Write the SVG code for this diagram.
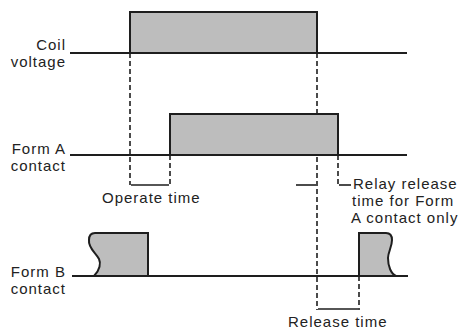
<svg xmlns="http://www.w3.org/2000/svg" width="465" height="334" viewBox="0 0 465 334">
<style>
.sig{fill:none;stroke:#1e1e1e;stroke-width:2}
.pulse{fill:#bdbdbd;stroke:none}
.dash{fill:none;stroke:#1e1e1e;stroke-width:1.6;stroke-dasharray:5 3}
.dim{fill:none;stroke:#1e1e1e;stroke-width:1.6}
text{font-family:"Liberation Sans",Arial,sans-serif;font-size:15px;fill:#222;letter-spacing:1px}
.r{text-anchor:end}
</style>
<rect width="465" height="334" fill="#fff"/>
<g id="connectors">
<line class="dash" x1="130" y1="53" x2="130" y2="185"/>
<line class="dash" x1="170" y1="155" x2="170" y2="185"/>
<line class="dash" x1="317" y1="53" x2="317" y2="310"/>
<line class="dash" x1="338" y1="155" x2="338" y2="185"/>
<line class="dash" x1="359" y1="276" x2="359" y2="310"/>
<line class="dim" x1="131" y1="185" x2="169" y2="185"/>
<line class="dim" x1="318" y1="309" x2="358" y2="309"/>
<line class="dim" x1="296" y1="185" x2="316" y2="185"/>
<line class="dim" x1="339" y1="185" x2="351" y2="185"/>
</g>
<g id="coil">
<rect class="pulse" x="130" y="12" width="187" height="41"/>
<line class="sig" x1="70" y1="53" x2="407" y2="53"/>
<path class="sig" d="M130,53 V12 H317 V53"/>
<text class="r" x="66" y="50">Coil</text>
<text class="r" x="66" y="67">voltage</text>
</g>
<g id="formA">
<rect class="pulse" x="170" y="114" width="168" height="41"/>
<line class="sig" x1="70" y1="155" x2="407" y2="155"/>
<path class="sig" d="M170,155 V114 H338 V155"/>
<text class="r" x="66" y="154">Form A</text>
<text class="r" x="66" y="171">contact</text>
</g>
<g id="formB">
<path class="pulse" d="M94,276 C100,270 101,263 99,259 C96,253 88,248 89,240 C89,236 91,233 95,233 H148 V276 Z"/>
<path class="pulse" d="M359,276 V233 H386 C390,233 392,236 392,240 C392,247 388,252 388,258 C388,266 391,274 396,276 Z"/>
<line class="sig" x1="72" y1="276" x2="408" y2="276"/>
<path class="sig" d="M94,276 C100,270 101,263 99,259 C96,253 88,248 89,240 C89,236 91,233 95,233 H148 V276"/>
<path class="sig" d="M359,276 V233 H386 C390,233 392,236 392,240 C392,247 388,252 388,258 C388,266 391,274 396,276"/>
<text class="r" x="66" y="277">Form B</text>
<text class="r" x="66" y="294">contact</text>
</g>
<g id="labels">
<text x="102" y="203">Operate time</text>
<text x="353" y="189">Relay release</text>
<text x="352" y="206">time for Form</text>
<text x="351" y="223">A contact only</text>
<text x="288" y="327">Release time</text>
</g>
</svg>
